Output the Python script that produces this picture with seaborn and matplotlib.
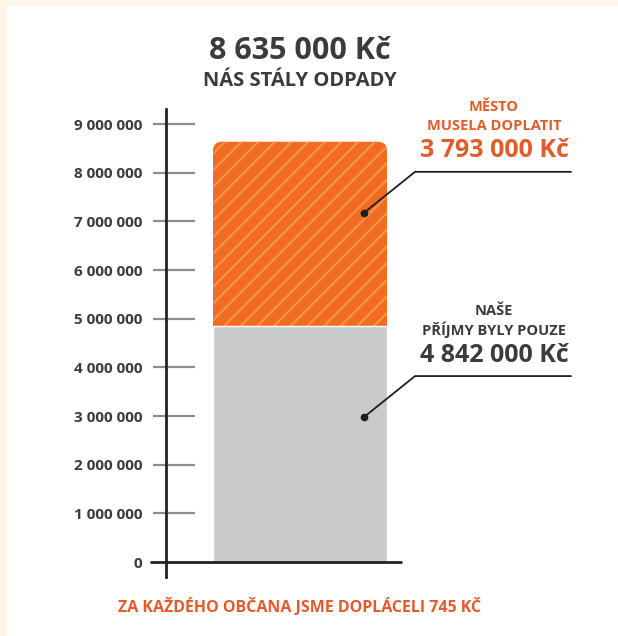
import matplotlib
matplotlib.use("Agg")
import matplotlib.pyplot as plt
import seaborn as sns
import pandas as pd
from matplotlib.patches import FancyBboxPatch, Rectangle

# ---- data ----
categories = ["Odpady"]
total_costs = [8635000]      # celkové náklady
income = [4842000]           # příjmy
city_paid = [3793000]        # město muselo doplatit
ytick_values = [0, 1000000, 2000000, 3000000, 4000000, 5000000, 6000000, 7000000, 8000000, 9000000]
ytick_labels = ["0", "1 000 000", "2 000 000", "3 000 000", "4 000 000", "5 000 000",
                "6 000 000", "7 000 000", "8 000 000", "9 000 000"]
title_main = "8 635 000 Kč"
title_sub = "NÁS STÁLY ODPADY"
top_label = ["MĚSTO", "MUSELA DOPLATIT", "3 793 000 Kč"]
bottom_label = ["NAŠE", "PŘÍJMY BYLY POUZE", "4 842 000 Kč"]
footer = "ZA KAŽDÉHO OBČANA JSME DOPLÁCELI 745 KČ"

sns.set_theme(style="white")
plt.rcParams["font.family"] = ["Open Sans", "DejaVu Sans"]
plt.rcParams["hatch.linewidth"] = 1.6

ORANGE = "#F26B22"
STRIPE = "#F6934A"
GREY = "#C9CACC"
DARK = "#3B3B3B"
TXT_OR = "#E35B2A"

W, H = 618, 636
fig = plt.figure(figsize=(W / 100, H / 100), dpi=100)
fig.patch.set_facecolor("white")

# cream frame
fig.patches.append(Rectangle((0, 1 - 6 / H), 1, 6 / H, transform=fig.transFigure,
                             facecolor="#FFF6E8", edgecolor="none", zorder=0))
fig.patches.append(Rectangle((0, 0), 7 / W, 1, transform=fig.transFigure,
                             facecolor="#FFF6E8", edgecolor="none", zorder=0))

# axes geometry in pixels
ax_left, ax_right = 166, 600
ax_top, ax_bottom = 109, 577
ax = fig.add_axes([ax_left / W, 1 - ax_bottom / H, (ax_right - ax_left) / W, (ax_bottom - ax_top) / H])
ax.set_facecolor("none")

px_per_m = (562 - 124) / 9.0          # pixels per million
ylo = -(ax_bottom - 562) / px_per_m * 1e6
yhi = 9e6 + (124 - ax_top) / px_per_m * 1e6
px_per_x = 174 / 0.8
xlo = -(300 - ax_left) / px_per_x
xhi = (ax_right - 300) / px_per_x

df_total = pd.DataFrame({"cat": categories, "val": total_costs})
df_inc = pd.DataFrame({"cat": categories, "val": income})

sns.barplot(data=df_total, x="cat", y="val", color=ORANGE, width=0.8, ax=ax,
            saturation=1, zorder=2)
sns.barplot(data=df_inc, x="cat", y="val", color=GREY, width=0.8, ax=ax,
            saturation=1, zorder=3)

# replace orange bar with rounded, hatched version
orange_bar = ax.patches[0]
bx, bw, bh = orange_bar.get_x(), orange_bar.get_width(), orange_bar.get_height()
orange_bar.set_visible(False)
r_px = 9
rounded = FancyBboxPatch((bx, 0), bw, bh,
                         boxstyle=f"round,pad=0,rounding_size={r_px / px_per_x}",
                         mutation_aspect=(px_per_x / px_per_m) * 1e6,
                         facecolor=ORANGE, edgecolor=STRIPE, linewidth=0,
                         hatch="//", zorder=2)
ax.add_patch(rounded)

ax.set_xlim(xlo, xhi)
ax.set_ylim(ylo, yhi)
ax.set_xlabel("")
ax.set_ylabel("")
ax.set_xticks([])
ax.set_yticks(ytick_values)
ax.set_yticklabels(ytick_labels, fontsize=11, fontweight="bold", color=DARK)
ax.tick_params(axis="y", length=0, pad=17)
for s in ["top", "right", "bottom"]:
    ax.spines[s].set_visible(False)
ax.spines["left"].set_color("#222222")
ax.spines["left"].set_linewidth(2)

# tick marks (grey), extending both sides of the axis
t_x0 = (153 - 300) / px_per_x
t_x1 = (195 - 300) / px_per_x
ax.hlines(ytick_values[1:], t_x0, t_x1, colors="#8E8E8E", linewidth=1.6, clip_on=False, zorder=1)
# baseline at 0
ax.hlines([0], (150 - 300) / px_per_x, (402 - 300) / px_per_x, colors="#222222",
          linewidth=2, clip_on=False, zorder=4)

# annotation leader lines
frac = 0.615
dx = 51 / px_per_x
dy = 41 / px_per_m * 1e6
x_end = (571 - 300) / px_per_x
dot_x = (364 - 300) / px_per_x
for base, height in [(income[0], city_paid[0]), (0, income[0])]:
    yd = base + frac * height
    ax.plot([dot_x, dot_x + dx, x_end], [yd, yd + dy, yd + dy], color="#1E1E1E",
            linewidth=1.3, clip_on=False, zorder=5)
    ax.plot([dot_x], [yd], "o", color="#1E1E1E", markersize=4.5, zorder=6, clip_on=False)


def ftext(x, y, s, **kw):
    fig.text(x / W, 1 - y / H, s, ha="center", va="center", **kw)


ftext(300, 51, title_main, fontsize=22, fontweight="bold", color=DARK)
ftext(300, 81, title_sub, fontsize=14.5, fontweight="bold", color=DARK)

ftext(494, 107, top_label[0], fontsize=10.5, fontweight="bold", color=TXT_OR)
ftext(494, 126, top_label[1], fontsize=10.5, fontweight="bold", color=TXT_OR)
ftext(494, 150, top_label[2], fontsize=18, fontweight="bold", color=TXT_OR)

ftext(494, 311, bottom_label[0], fontsize=10.5, fontweight="bold", color=DARK)
ftext(494, 330, bottom_label[1], fontsize=10.5, fontweight="bold", color=DARK)
ftext(494, 355, bottom_label[2], fontsize=18, fontweight="bold", color=DARK)

ftext(300, 607, footer, fontsize=11.5, fontweight="bold", color=TXT_OR)

fig.savefig("out.png", dpi=100, facecolor=fig.get_facecolor())
